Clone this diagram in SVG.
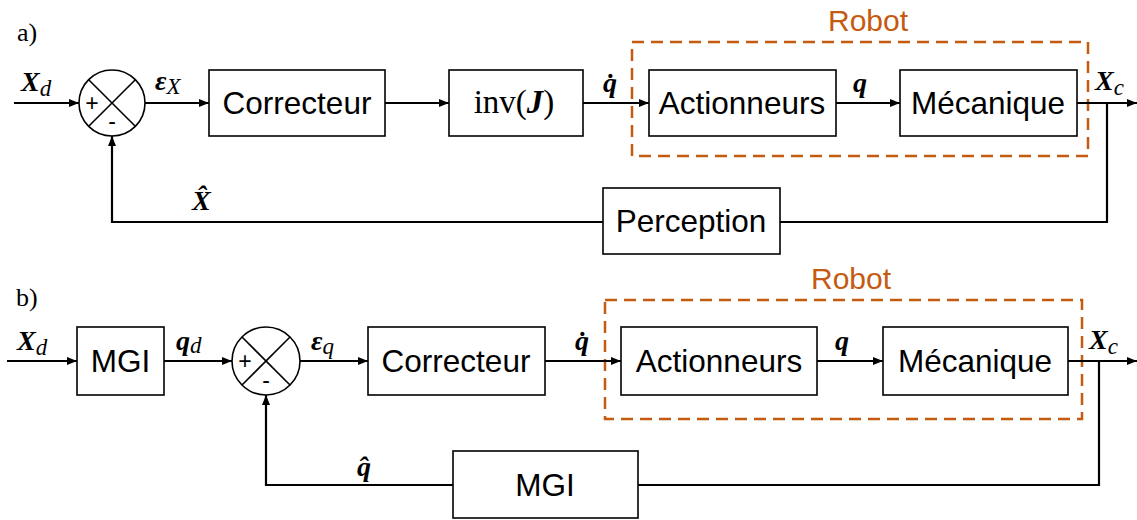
<svg xmlns="http://www.w3.org/2000/svg" width="1137" height="520" viewBox="0 0 1137 520">
<defs>
<marker id="arr" markerWidth="10" markerHeight="8" refX="10" refY="4" orient="auto" markerUnits="userSpaceOnUse">
<path d="M0,0 L10,4 L0,8 z" fill="#000"/>
</marker>
<style>
.box{fill:#fff;stroke:#000;stroke-width:1.6}
.sum{fill:#fff;stroke:#000;stroke-width:1.6}
.ln{fill:none;stroke:#000;stroke-width:2.2}
.cr{fill:none;stroke:#000;stroke-width:1.6}
.cn{fill:none;stroke:#000;stroke-width:2.2;marker-end:url(#arr)}
.robot{fill:none;stroke:#C55A11;stroke-width:2.5;stroke-dasharray:12 7}
.rt{font-family:"Liberation Sans",Arial,sans-serif;font-size:30px;fill:#C55A11;text-anchor:middle}
.bt{font-family:"Liberation Sans",Arial,sans-serif;font-size:31.5px;fill:#000;text-anchor:middle}
.pm{font-family:"Liberation Sans",Arial,sans-serif;font-size:23px;fill:#000;text-anchor:middle}
.lab{font-family:"Liberation Serif","Times New Roman",serif;font-size:26px;fill:#000}
.m{font-family:"Liberation Serif","Times New Roman",serif;font-size:28px;font-weight:bold;font-style:italic;fill:#000}
.s{font-weight:normal;font-style:italic;font-size:23px}
</style>
</defs>
<rect width="1137" height="520" fill="#fff"/>

<!-- ===== Part a ===== -->
<text class="lab" x="17" y="41">a)</text>
<g id="robot-a">
<rect class="robot" x="632" y="42" width="456" height="114"/>
<text class="rt" x="868" y="31">Robot</text>
</g>
<g id="connectors-a">
<line class="cn" x1="14" y1="103" x2="79" y2="103"/>
<line class="cn" x1="145" y1="103" x2="209" y2="103"/>
<line class="cn" x1="385" y1="103" x2="449" y2="103"/>
<line class="cn" x1="583" y1="103" x2="649" y2="103"/>
<line class="cn" x1="836" y1="103" x2="900" y2="103"/>
<line class="cn" x1="1077" y1="103" x2="1137" y2="103"/>
<polyline class="ln" points="1107,103 1107,222 780,222"/>
<polyline class="cn" points="603,222 112,222 112,136"/>
</g>
<g id="sum-a">
<circle class="sum" cx="112" cy="103" r="33"/>
<line class="cr" x1="88.7" y1="79.7" x2="135.3" y2="126.3"/>
<line class="cr" x1="135.3" y1="79.7" x2="88.7" y2="126.3"/>
<text class="pm" x="92" y="111">+</text>
<text class="pm" x="112" y="129">-</text>
</g>
<g id="correcteur-a"><rect class="box" x="209" y="70" width="176" height="66"/><text class="bt" x="297" y="114">Correcteur</text></g>
<g id="invJ-a"><rect class="box" x="449" y="70" width="134" height="66"/>
<text x="514" y="113" text-anchor="middle" style="font-family:'Liberation Serif','Times New Roman',serif;font-size:33px">inv(<tspan font-weight="bold" font-style="italic">J</tspan>)</text></g>
<g id="actionneurs-a"><rect class="box" x="649" y="70" width="187" height="66"/><text class="bt" x="742" y="114">Actionneurs</text></g>
<g id="mecanique-a"><rect class="box" x="900" y="70" width="177" height="66"/><text class="bt" x="988" y="114">Mécanique</text></g>
<g id="perception-a"><rect class="box" x="603" y="188" width="177" height="66"/><text class="bt" x="691" y="232">Perception</text></g>
<g id="labels-a">
<text class="m" x="21" y="91">X<tspan class="s" dy="5">d</tspan></text>
<text class="m" x="155" y="90">ε<tspan class="s" dy="4">X</tspan></text>
<text class="m" x="603" y="92">q̇</text>
<text class="m" x="853" y="92">q</text>
<text class="m" x="1095" y="90">X<tspan class="s" dy="5">c</tspan></text>
<text class="m" x="192" y="210">X̂</text>
</g>

<!-- ===== Part b ===== -->
<text class="lab" x="16" y="306">b)</text>
<g id="robot-b">
<rect class="robot" x="605" y="300" width="477" height="119"/>
<text class="rt" x="851" y="289">Robot</text>
</g>
<g id="connectors-b">
<line class="cn" x1="7" y1="361" x2="77" y2="361"/>
<line class="cn" x1="164" y1="361" x2="232" y2="361"/>
<line class="cn" x1="300" y1="361" x2="368" y2="361"/>
<line class="cn" x1="545" y1="361" x2="621" y2="361"/>
<line class="cn" x1="817" y1="361" x2="883" y2="361"/>
<line class="cn" x1="1068" y1="361" x2="1137" y2="361"/>
<polyline class="ln" points="1099,361 1099,485 638,485"/>
<polyline class="cn" points="453,485 266,485 266,395"/>
</g>
<g id="mgi-b1"><rect class="box" x="77" y="327" width="87" height="68"/><text class="bt" x="120.5" y="372">MGI</text></g>
<g id="sum-b">
<circle class="sum" cx="266" cy="361" r="34"/>
<line class="cr" x1="242" y1="337" x2="290" y2="385"/>
<line class="cr" x1="290" y1="337" x2="242" y2="385"/>
<text class="pm" x="245" y="369">+</text>
<text class="pm" x="266" y="388">-</text>
</g>
<g id="correcteur-b"><rect class="box" x="368" y="327" width="177" height="68"/><text class="bt" x="456" y="372">Correcteur</text></g>
<g id="actionneurs-b"><rect class="box" x="621" y="327" width="196" height="68"/><text class="bt" x="719" y="372">Actionneurs</text></g>
<g id="mecanique-b"><rect class="box" x="883" y="327" width="185" height="68"/><text class="bt" x="975" y="372">Mécanique</text></g>
<g id="mgi-b2"><rect class="box" x="453" y="451" width="185" height="67"/><text class="bt" x="545" y="496">MGI</text></g>
<g id="labels-b">
<text class="m" x="17" y="350">X<tspan class="s" dy="5">d</tspan></text>
<text class="m" x="176" y="350">q<tspan class="s" dy="3">d</tspan></text>
<text class="m" x="311" y="350">ε<tspan class="s" dy="4">q</tspan></text>
<text class="m" x="575" y="350">q̇</text>
<text class="m" x="835" y="350">q</text>
<text class="m" x="1089" y="349">X<tspan class="s" dy="5">c</tspan></text>
<text class="m" x="357" y="476">q̂</text>
</g>
</svg>
